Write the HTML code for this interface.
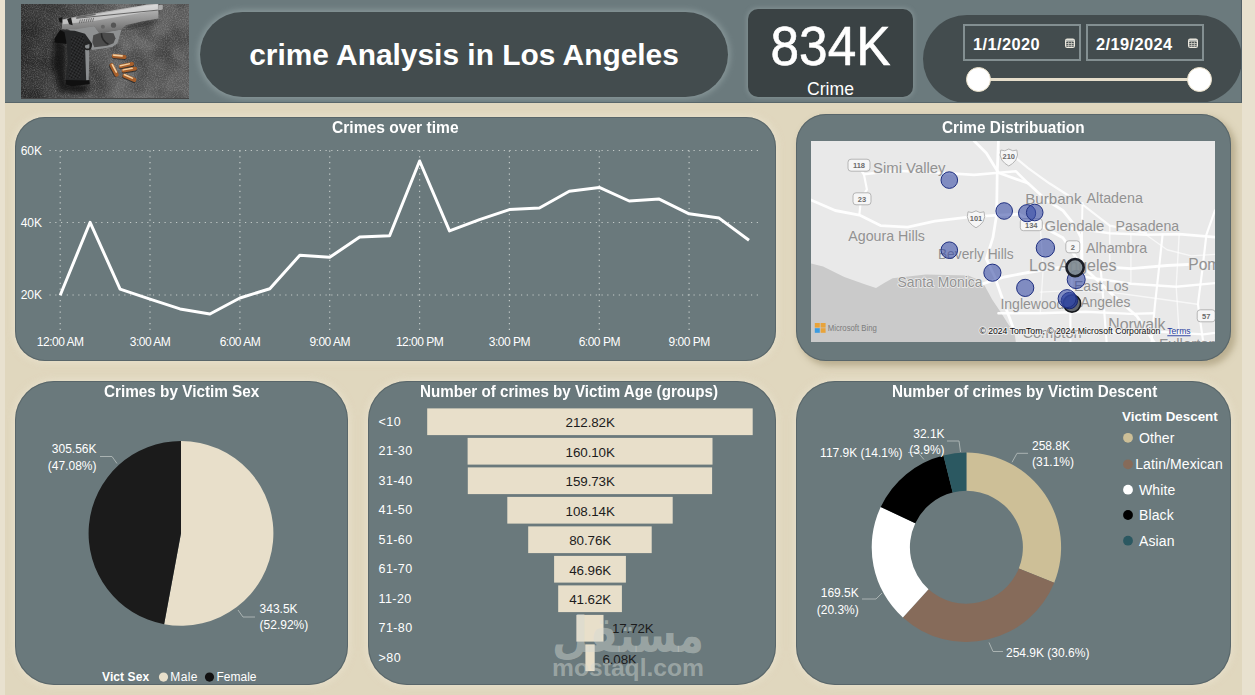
<!DOCTYPE html>
<html lang="en">
<head>
<meta charset="utf-8">
<title>crime Analysis in Los Angeles</title>
<style>
*{box-sizing:border-box;margin:0;padding:0}
html,body{width:1255px;height:695px;overflow:hidden}
body{position:relative;background:#e8e1cf;font-family:"Liberation Sans","DejaVu Sans",sans-serif;color:#fff}
.abs{position:absolute}
#canvas{position:absolute;left:5px;top:0;width:1237px;height:695px;background:#e0d7be;overflow:hidden}
#header{position:absolute;left:0;top:0;width:1237px;height:103px;background:#6b7a7d;overflow:hidden;border-bottom:1px solid #58666a;border-right:1.5px solid #526066}
.card{position:absolute;background:#6a797c;border-radius:30px;box-shadow:inset 0 0 0 1px rgba(72,84,88,.5),0 0 6px 2px rgba(236,230,212,.55)}
.title{position:absolute;white-space:nowrap;font-weight:bold;font-size:16px;line-height:16px;color:#fff;transform-origin:0 0}
.dbox{border:2px solid #838f91;background:#434c4e}
.dbox span{position:absolute;left:8px;top:8.6px;font-weight:bold;font-size:16.4px;letter-spacing:.4px;color:#fff}
.knob{width:25px;height:25px;border-radius:50%;background:#fff;border:1.5px solid #e8dfc8}
svg{position:absolute;left:0;top:0;overflow:visible}
svg text{font-family:"Liberation Sans","DejaVu Sans",sans-serif}
</style>
</head>
<body>
<div id="canvas">
  <div id="header">
    <!-- gun photo -->
    <div id="gun" class="abs" style="left:15.5px;top:4px;width:168.5px;height:94.5px;background:#444;overflow:hidden"><svg id="gunsvg" width="169" height="94" viewBox="0 0 169 94" style="overflow:hidden">
      <defs>
        <linearGradient id="gbg" x1="0" y1="0" x2="1" y2="0"><stop offset="0" stop-color="#303030"/><stop offset=".3" stop-color="#4a4a4a"/><stop offset=".6" stop-color="#666"/><stop offset="1" stop-color="#5c5c5c"/></linearGradient>
        <linearGradient id="gsl" x1="0" y1="0" x2="0.15" y2="1"><stop offset="0" stop-color="#dcdcdc"/><stop offset=".4" stop-color="#acacac"/><stop offset="1" stop-color="#6f6f6f"/></linearGradient>
        <filter id="gn" x="0" y="0" width="100%" height="100%"><feTurbulence type="fractalNoise" baseFrequency="0.9" numOctaves="2" seed="4" result="n"/><feColorMatrix type="matrix" values="0 0 0 0 1  0 0 0 0 1  0 0 0 0 1  1.4 0 0 0 -.55"/></filter>
        <filter id="gn2" x="0" y="0" width="100%" height="100%"><feTurbulence type="fractalNoise" baseFrequency="0.045" numOctaves="2" seed="9"/><feColorMatrix type="matrix" values="0 0 0 0 0  0 0 0 0 0  0 0 0 0 0  1.6 0 0 0 -.6"/></filter>
        <pattern id="ghatch" width="2" height="2" patternUnits="userSpaceOnUse" patternTransform="rotate(30)"><rect width="1" height="1" fill="#111"/><rect x="1" y="1" width="1" height="1" fill="#111"/></pattern>
        <filter id="gb"><feGaussianBlur stdDeviation="2.2"/></filter>
      </defs>
      <rect width="169" height="94" fill="url(#gbg)"/>
      <rect width="169" height="94" filter="url(#gn2)" opacity=".45"/>
      <rect width="169" height="94" filter="url(#gn)" opacity=".3"/>
      <polygon points="33.2,34.2 44.9,40.0 44.9,78.2 68.4,81.2 64.0,90.0 39.0,87.0 31.7,62.1" fill="#0c0c0c" opacity=".75" filter="url(#gb)"/>
      <polygon points="104.5,22.4 137.4,16.1 137.4,17.7 106.6,24.7" fill="#111" opacity=".7" filter="url(#gb)"/>
      <polygon points="47.1,25.2 73.3,22.0 78.4,29.2 100.5,25.4 96.5,39.3 91.4,43.1 71.3,45.9 69.3,43.3 63.2,44.4 60.2,36.3 52.2,29.2" fill="#8f9192"/>
      <polygon points="72.3,31.3 80.4,28.2 92.5,29.2 94.5,34.3 92.5,39.3 86.4,41.8 73.3,43.3 71.3,38.3" fill="#4b4b4b"/>
      <path d="M80.4,29.2 Q80.4,36.3 87.4,40.3" stroke="#2a2a2a" stroke-width="1.6" fill="none"/>
      <polygon points="39.0,26.1 34.3,34.5 45.7,38.6 46.7,57.7 44.6,77.0 50.8,80.4 68.4,78.5 66.6,51.8 71.3,40.0 64.0,29.8 53.7,26.8" fill="#262728"/>
      <polygon points="50.1,32.7 62.5,31.2 64.0,44.5 59.6,75.3 46.4,74.5 49.6,54.7" fill="#3c3d3f"/><polygon points="50.1,32.7 62.5,31.2 64.0,44.5 59.6,75.3 46.4,74.5 49.6,54.7" fill="url(#ghatch)"/>
      <polygon points="39.0,26.1 33.5,34.5 33.5,38.6 45.7,40.0 43.5,28.3" fill="#0e0e0e"/>
      <polygon points="64.0,41.5 68.4,40.0 67.8,76.0 65.2,76.5" fill="#8a8d8f"/>
      <polygon points="44.6,76.0 68.4,76.5 68.7,80.0 50.8,82.3 44.9,80.4" fill="#101010"/>
      <circle cx="66.5" cy="41.8" r="3.6" fill="none" stroke="#232323" stroke-width="1.6"/>
      <polygon points="40.9,15.6 55.2,12.6 126.7,0.5 137.2,-0.2 137.4,14.6 120.7,17.4 104.5,21.2 100.5,25.4 78.4,29.2 73.3,22.2 55.2,25.2 41.1,24.9" fill="url(#gsl)"/>
      <polygon points="41.6,16.1 126.7,1.5 136.8,0.8 136.8,6.1 74.3,16.7 42.1,20.2" fill="#f2f2f2" opacity=".45"/>
      <polyline points="55.2,14.3 136.8,6.1" stroke="#5a5a5a" stroke-width=".9" fill="none"/>
      <polygon points="55.2,12.6 74.3,9.6 74.8,11.1 55.7,14.6" fill="#6a6a6a"/>
      <g stroke="#5f5f5f" stroke-width=".8"><line x1="58.2" y1="19.4" x2="59.4" y2="15.6"/><line x1="60.4" y1="19.1" x2="61.6" y2="15.3"/><line x1="62.6" y1="18.8" x2="63.8" y2="15.0"/><line x1="64.9" y1="18.5" x2="66.1" y2="14.7"/><line x1="67.1" y1="18.2" x2="68.3" y2="14.4"/><line x1="69.3" y1="17.9" x2="70.5" y2="14.1"/><line x1="71.5" y1="17.6" x2="72.7" y2="13.8"/></g>
      <circle cx="92.5" cy="21.2" r="2.6" fill="#555"/>
      <circle cx="81.9" cy="22.7" r="2" fill="#666"/>
      <polygon points="46.1,15.1 50.1,13.6 51.7,21.2 48.1,20.2" fill="#1e1e1e"/>
      <polygon points="37.6,14.1 41.3,13.3 41.3,18.7 38.6,18.2" fill="#161616"/>
      <polygon points="137.2,1.2 140.0,0.8 141.8,1.2 141.8,5.3 140.0,5.9 137.2,5.9" fill="#a9a9a9"/>
      <g transform="translate(98.1,52.5) rotate(5)"><rect x="-7.3" y="-1.1" width="14.7" height="4.1" rx="2.1" fill="#1c1c1c" opacity=".7"/><rect x="-7.3" y="-2.1" width="14.7" height="4.1" rx="1.9" fill="#a85f2a"/><rect x="-6.5" y="-1.7" width="10.3" height="1.6" rx="1" fill="#f3cfa0"/></g><g transform="translate(93.1,65.9) rotate(62)"><rect x="-7.3" y="-1.1" width="14.7" height="4.1" rx="2.1" fill="#1c1c1c" opacity=".7"/><rect x="-7.3" y="-2.1" width="14.7" height="4.1" rx="1.9" fill="#a85f2a"/><rect x="-6.5" y="-1.7" width="10.3" height="1.6" rx="1" fill="#f3cfa0"/></g><g transform="translate(105.4,61.2) rotate(-12)"><rect x="-7.7" y="-0.9" width="15.4" height="3.8" rx="1.9" fill="#1c1c1c" opacity=".7"/><rect x="-7.7" y="-1.9" width="15.4" height="3.8" rx="1.7" fill="#a85f2a"/><rect x="-6.9" y="-1.5" width="10.8" height="1.5" rx="1" fill="#f3cfa0"/></g><g transform="translate(108.3,65.6) rotate(-10)"><rect x="-7.7" y="-0.9" width="15.4" height="3.8" rx="1.9" fill="#1c1c1c" opacity=".7"/><rect x="-7.7" y="-1.9" width="15.4" height="3.8" rx="1.7" fill="#a85f2a"/><rect x="-6.9" y="-1.5" width="10.8" height="1.5" rx="1" fill="#f3cfa0"/></g><g transform="translate(108.3,73.8) rotate(24)"><rect x="-7.3" y="-1.1" width="14.7" height="4.1" rx="2.1" fill="#1c1c1c" opacity=".7"/><rect x="-7.3" y="-2.1" width="14.7" height="4.1" rx="1.9" fill="#a85f2a"/><rect x="-6.5" y="-1.7" width="10.3" height="1.6" rx="1" fill="#f3cfa0"/></g>
    </svg></div>
    <!-- title pill -->
    <div id="pill" class="abs" style="left:195px;top:12px;width:528px;height:85px;border-radius:43px;background:#434c4e;box-shadow:0 0 6px 2px rgba(200,215,215,.33)">
      <div class="abs" style="left:0;right:0;top:25.5px;text-align:center;font-weight:bold;font-size:29.9px;color:#fff">crime Analysis in Los Angeles</div>
    </div>
    <!-- KPI -->
    <div id="kpi" class="abs" style="left:743px;top:9px;width:165px;height:87.5px;border-radius:10px;background:#3a4244;box-shadow:0 0 5px 1px rgba(200,215,215,.28)">
      <div class="abs" style="left:0;right:0;top:4.5px;text-align:center;font-size:55.5px;color:#fff;transform:scaleX(.925);-webkit-text-stroke:.6px #fff">834K</div>
      <div class="abs" style="left:0;right:0;top:69.5px;text-align:center;font-size:17.6px;color:#fff">Crime</div>
    </div>
    <!-- slicer -->
    <div id="slicer" class="abs" style="left:918px;top:15px;width:319px;height:88px;border-radius:44px;background:#434c4e">
      <div class="abs dbox" style="left:40px;top:9px;width:117.5px;height:37px"><span>1/1/2020</span>
        <svg width="12" height="12" viewBox="0 0 12 12" style="left:98.5px;top:10.8px"><rect x="1" y="1.5" width="10" height="9.5" rx="2.2" fill="#eeeae0"/><rect x="2.3" y="4.6" width="7.4" height="5.2" rx=".6" fill="#434c4e"/><rect x="2.3" y="6.1" width="7.4" height=".8" fill="#d9d6cc"/><rect x="2.3" y="7.9" width="7.4" height=".8" fill="#d9d6cc"/><rect x="4.4" y="4.6" width=".7" height="5.2" fill="#d9d6cc"/><rect x="6.9" y="4.6" width=".7" height="5.2" fill="#d9d6cc"/><rect x="2" y="2.9" width="8" height=".7" fill="#9aa3a3"/></svg></div>
      <div class="abs dbox" style="left:163px;top:9px;width:117.5px;height:37px"><span>2/19/2024</span>
        <svg width="12" height="12" viewBox="0 0 12 12" style="left:98.5px;top:10.8px"><rect x="1" y="1.5" width="10" height="9.5" rx="2.2" fill="#eeeae0"/><rect x="2.3" y="4.6" width="7.4" height="5.2" rx=".6" fill="#434c4e"/><rect x="2.3" y="6.1" width="7.4" height=".8" fill="#d9d6cc"/><rect x="2.3" y="7.9" width="7.4" height=".8" fill="#d9d6cc"/><rect x="4.4" y="4.6" width=".7" height="5.2" fill="#d9d6cc"/><rect x="6.9" y="4.6" width=".7" height="5.2" fill="#d9d6cc"/><rect x="2" y="2.9" width="8" height=".7" fill="#9aa3a3"/></svg></div>
      <div class="abs" style="left:55px;top:62.5px;width:222px;height:3.5px;background:#e6decb"></div>
      <div class="abs knob" style="left:42.5px;top:51.5px"></div>
      <div class="abs knob" style="left:264px;top:51.5px"></div>
    </div>
  </div>

  <!-- line chart card -->
  <div class="card" id="c1" style="left:10px;top:117px;width:761px;height:244px">
    <div class="title" style="left:317.3px;top:3.2px;transform:scaleX(.975)">Crimes over time</div>
    <svg width="761" height="244" viewBox="0 0 761 244">
      <g stroke="#c3cac8" stroke-width="1.2" stroke-dasharray="1.2 4.55" fill="none"><line x1="34.5" y1="33.5" x2="744" y2="33.5"/><line x1="34.5" y1="105.5" x2="744" y2="105.5"/><line x1="34.5" y1="178" x2="744" y2="178"/><line x1="45.2" y1="33.5" x2="45.2" y2="216"/><line x1="135.0" y1="33.5" x2="135.0" y2="216"/><line x1="224.9" y1="33.5" x2="224.9" y2="216"/><line x1="314.7" y1="33.5" x2="314.7" y2="216"/><line x1="404.6" y1="33.5" x2="404.6" y2="216"/><line x1="494.4" y1="33.5" x2="494.4" y2="216"/><line x1="584.3" y1="33.5" x2="584.3" y2="216"/><line x1="674.1" y1="33.5" x2="674.1" y2="216"/></g>
      <g fill="#fff" font-size="12" letter-spacing="-.5"><text x="45.2" y="229" text-anchor="middle">12:00 AM</text><text x="135.0" y="229" text-anchor="middle">3:00 AM</text><text x="224.9" y="229" text-anchor="middle">6:00 AM</text><text x="314.7" y="229" text-anchor="middle">9:00 AM</text><text x="404.6" y="229" text-anchor="middle">12:00 PM</text><text x="494.4" y="229" text-anchor="middle">3:00 PM</text><text x="584.3" y="229" text-anchor="middle">6:00 PM</text><text x="674.1" y="229" text-anchor="middle">9:00 PM</text><text x="5.8" y="37.7" letter-spacing="-.1">60K</text><text x="5.8" y="109.7" letter-spacing="-.1">40K</text><text x="5.8" y="182.2" letter-spacing="-.1">20K</text></g>
      <polyline points="45.2,178.3 75.1,105.3 105.1,172.1 135.0,182.2 165.0,191.9 194.9,197.0 224.9,181.0 254.8,171.7 284.8,138.3 314.7,140.3 344.7,120.1 374.6,118.7 404.6,44.0 434.5,113.9 464.5,102.7 494.4,92.6 524.4,91.0 554.3,74.3 584.3,70.4 614.2,84.0 644.2,82.1 674.1,96.8 704.1,101.1 734.0,123.2" fill="none" stroke="#fff" stroke-width="3" stroke-linejoin="round" stroke-linecap="butt"/>
    </svg>
  </div>
  <!-- map card -->
  <div class="card" id="c2" style="left:791px;top:114px;width:435px;height:247px;box-shadow:inset 0 0 0 1px rgba(72,84,88,.5),4px 4px 6px 1px rgba(150,135,100,.5)">
    <div class="title" style="left:146.1px;top:6.2px;transform:scaleX(.96)">Crime Distribuation</div>
    <svg id="map" width="404" height="201" viewBox="0 0 404 201" style="left:15px;top:27px;overflow:hidden">
      <rect width="404" height="201" fill="#e9e9e9"/>
      <path d="M0.0,122.4 L12.1,125.4 L33.3,136.0 L54.4,143.6 L65.0,146.9 L73.2,142.1 L81.6,137.2 L114.9,133.6 L157.2,134.5 L167.7,139.0 L173.8,145.1 L181.3,158.7 L190.4,172.3 L197.1,182.9 L202.5,190.4 L204.0,194.9 L205.0,202.5 L205.0,211.6 L0.0,211.6Z" fill="#cacaca"/>
      <g fill="none" stroke="#fff" stroke-opacity=".92" stroke-linejoin="round" stroke-linecap="round"><path d="M46.9,24.2 L52.9,33.3 L84.6,29.7 L130.0,31.8 L163.2,33.9 L187.4,31.8 L205.0,30.3 L217.1,42.3" stroke-width="2.6" opacity="1"/><path d="M52.9,33.3 L55.9,48.4 L49.9,59.0 L48.4,73.2" stroke-width="2.2" opacity="1"/><path d="M0.0,59.0 L24.2,69.5 L48.4,74.1 L69.5,84.6 L96.7,86.2 L123.9,80.1 L157.2,76.2 L187.4,74.1 L208.1,73.2 L229.2,84.6 L251.9,96.7 L264.0,114.9 L270.0,124.5" stroke-width="2.8" opacity="1"/><path d="M187.4,0.0 L186.2,33.3 L185.6,74.1 L181.9,96.7 L175.3,117.9 L183.8,136.0 L193.4,163.2 L202.5,187.4" stroke-width="2.8" opacity="1"/><path d="M163.2,0.0 L175.3,12.1 L187.4,31.8 L217.1,42.3 L235.3,59.0 L251.9,69.5 L264.0,84.6 L270.0,96.7 L270.9,124.5 L298.7,151.1 L325.9,175.3 L344.0,202.5" stroke-width="2.8" opacity="1"/><path d="M187.4,12.1 L199.0,12.1 L217.1,27.2 L238.3,42.3 L271.5,63.5 L298.7,84.6 L335.0,92.2" stroke-width="2.2" opacity="0.9"/><path d="M208.1,73.2 L229.2,84.6 L271.5,88.3 L298.7,92.2 L335.0,93.7 L368.2,93.1 L403.9,96.1" stroke-width="2.6" opacity="1"/><path d="M271.5,62.0 L270.9,88.3 L271.5,124.5" stroke-width="2" opacity="1"/><path d="M172.3,142.7 L193.4,136.0 L217.1,131.5 L244.3,127.0 L274.5,124.5 L319.9,127.6 L356.1,124.5 L403.9,122.1" stroke-width="2.8" opacity="1"/><path d="M274.5,136.0 L319.9,142.7 L365.2,145.7 L403.9,142.1" stroke-width="2.4" opacity="1"/><path d="M351.6,93.7 L347.7,130.0 L344.0,163.2 L340.4,202.5" stroke-width="2.2" opacity="1"/><path d="M289.6,127.0 L292.7,163.2 L295.7,202.5" stroke-width="2.2" opacity="1"/><path d="M261.5,127.0 L259.4,163.2 L259.4,202.5" stroke-width="2.2" opacity="1"/><path d="M187.4,172.3 L229.2,172.3 L274.5,170.8 L319.9,172.9 L342.5,172.3" stroke-width="2.4" opacity="1"/><path d="M403.9,69.5 L395.4,93.7 L391.2,130.0 L386.9,163.2 L392.4,202.5" stroke-width="2.2" opacity="1"/><path d="M259.4,190.4 L295.7,191.9 L341.0,190.4 L392.4,193.4 L403.9,191.9" stroke-width="2.2" opacity="1"/><path d="M298.7,84.6 L298.7,127.0" stroke-width="1.6" opacity="0.8"/><path d="M319.9,93.7 L319.9,142.7" stroke-width="1.4" opacity="0.7"/><path d="M368.2,93.1 L365.2,145.7 L368.2,193.4" stroke-width="1.4" opacity="0.7"/><path d="M229.2,84.6 L232.2,127.0 L229.2,172.3" stroke-width="1.4" opacity="0.7"/><path d="M229.2,151.1 L259.4,149.6 L292.7,151.1" stroke-width="1.4" opacity="0.7"/><path d="M335.0,93.7 L356.1,108.8 L380.3,114.9 L403.9,113.4" stroke-width="1.4" opacity="0.7"/><path d="M298.7,151.1 L344.0,157.2 L386.3,163.2" stroke-width="1.4" opacity="0.7"/></g>
      <rect x="37.0" y="18.19999999999999" width="22" height="12" rx="3" fill="#f6f6f6" stroke="#b5b5b5" stroke-width="1"/><text x="48" y="27.19999999999999" font-size="7.5" font-weight="bold" text-anchor="middle" fill="#6b6b6b">118</text><rect x="42.0" y="51.80000000000001" width="18" height="12" rx="3" fill="#f6f6f6" stroke="#b5b5b5" stroke-width="1"/><text x="51" y="60.80000000000001" font-size="7.5" font-weight="bold" text-anchor="middle" fill="#6b6b6b">23</text><path d="M189.79999999999995,9 q4,2 8,-1 q4,3 8,1 q2,5 -1,10 q-3,4 -7,6 q-4,-2 -7,-6 q-3,-5 -1,-10Z" fill="#f6f6f6" stroke="#b5b5b5" stroke-width="1"/><text x="197.79999999999995" y="18.3" font-size="7.5" font-weight="bold" text-anchor="middle" fill="#6b6b6b">210</text><path d="M157,70.80000000000001 q4,2 8,-1 q4,3 8,1 q2,5 -1,10 q-3,4 -7,6 q-4,-2 -7,-6 q-3,-5 -1,-10Z" fill="#f6f6f6" stroke="#b5b5b5" stroke-width="1"/><text x="165" y="80.10000000000001" font-size="7.5" font-weight="bold" text-anchor="middle" fill="#6b6b6b">101</text><rect x="209.29999999999995" y="77.69999999999999" width="22" height="12" rx="3" fill="#f6f6f6" stroke="#b5b5b5" stroke-width="1"/><text x="220.29999999999995" y="86.69999999999999" font-size="7.5" font-weight="bold" text-anchor="middle" fill="#6b6b6b">134</text><rect x="254.79999999999995" y="99.80000000000001" width="14" height="12" rx="3" fill="#f6f6f6" stroke="#b5b5b5" stroke-width="1"/><text x="261.79999999999995" y="108.80000000000001" font-size="7.5" font-weight="bold" text-anchor="middle" fill="#6b6b6b">2</text><rect x="386.20000000000005" y="168.8" width="18" height="12" rx="3" fill="#f6f6f6" stroke="#b5b5b5" stroke-width="1"/><text x="395.20000000000005" y="177.8" font-size="7.5" font-weight="bold" text-anchor="middle" fill="#6b6b6b">57</text>
      <g fill="#929292" stroke="#ececec" stroke-width="1.6" paint-order="stroke"><text x="62.1" y="31.8" font-size="14.6" textLength="72.4" lengthAdjust="spacingAndGlyphs">Simi Valley</text><text x="214.2" y="63.1" font-size="14.6" textLength="56.4" lengthAdjust="spacingAndGlyphs">Burbank</text><text x="275.5" y="61.6" font-size="14.6" textLength="56.4" lengthAdjust="spacingAndGlyphs">Altadena</text><text x="233.6" y="89.8" font-size="14.6" textLength="59.8" lengthAdjust="spacingAndGlyphs">Glendale</text><text x="304.5" y="89.8" font-size="14.6" textLength="63.7" lengthAdjust="spacingAndGlyphs">Pasadena</text><text x="37.3" y="100.4" font-size="14.6" textLength="76.6" lengthAdjust="spacingAndGlyphs">Agoura Hills</text><text x="275.1" y="111.9" font-size="14.6" textLength="61" lengthAdjust="spacingAndGlyphs">Alhambra</text><text x="126.9" y="117.6" font-size="14.6" textLength="75.8" lengthAdjust="spacingAndGlyphs">Beverly Hills</text><text x="218.0" y="130.2" font-size="16.6" textLength="87.6" lengthAdjust="spacingAndGlyphs">Los Angeles</text><text x="377.3" y="128.7" font-size="16.6" textLength="58" lengthAdjust="spacingAndGlyphs">Pomona</text><text x="86.5" y="146.2" font-size="14.6" textLength="85" lengthAdjust="spacingAndGlyphs">Santa Monica</text><text x="263.0" y="149.6" font-size="14.6" textLength="54.5" lengthAdjust="spacingAndGlyphs">East Los</text><text x="269.4" y="166.0" font-size="14.6" textLength="50" lengthAdjust="spacingAndGlyphs">Angeles</text><text x="189.4" y="167.9" font-size="14.6" textLength="64" lengthAdjust="spacingAndGlyphs">Inglewood</text><text x="297.3" y="188.9" font-size="16.4" textLength="57.1" lengthAdjust="spacingAndGlyphs">Norwalk</text><text x="211.5" y="196.5" font-size="14.6" textLength="59.1" lengthAdjust="spacingAndGlyphs">Compton</text><text x="347.9" y="208.0" font-size="14.6" textLength="58" lengthAdjust="spacingAndGlyphs">Fullerton</text></g>
      <circle cx="261.0" cy="162.5" r="8.6" fill="#4a5058" fill-opacity=".85" stroke="#15181c" stroke-width="1.6"/><circle cx="258.4" cy="159.6" r="8.2" fill="#22389a" fill-opacity=".75" stroke="#172470" stroke-width="1"/>
      <g fill="#3a4ea6" fill-opacity=".6" stroke="#1f2f80" stroke-width="1"><circle cx="138.3" cy="39.1" r="8.3"/><circle cx="193.2" cy="70.0" r="8.3"/><circle cx="216.1" cy="72.2" r="8.6"/><circle cx="223.7" cy="71.5" r="8.3"/><circle cx="234.4" cy="106.9" r="9.2"/><circle cx="138.3" cy="109.2" r="8.3"/><circle cx="181.4" cy="131.7" r="8.6"/><circle cx="214.2" cy="146.9" r="8.6"/><circle cx="265.2" cy="138.6" r="9"/><circle cx="256.1" cy="157.6" r="9"/></g>
      <circle cx="264.1" cy="126.6" r="8.6" fill="#7f8a91" fill-opacity=".92" stroke="#1a1d26" stroke-width="2.6"/>
      <g><rect x="3.8" y="182" width="5" height="4.6" fill="#e8a33a"/><rect x="9.6" y="182" width="5" height="4.6" fill="#e8a33a"/><rect x="3.8" y="187.2" width="5" height="4.6" fill="#3b9be0"/><rect x="9.6" y="187.2" width="5" height="4.6" fill="#e8a33a"/>
      <text x="16.7" y="190" font-size="8.6" fill="#7c7c7c" textLength="49.2" lengthAdjust="spacingAndGlyphs">Microsoft Bing</text></g>
      <text x="168.4" y="193.3" font-size="9.3" fill="#111" stroke="#f2f2f2" stroke-width="2" paint-order="stroke" stroke-opacity=".8" textLength="181" lengthAdjust="spacingAndGlyphs">© 2024 TomTom, © 2024 Microsoft Corporation</text>
      <text x="356.3" y="193.3" font-size="9.3" fill="#2a3fa0" text-decoration="underline" textLength="23.3" lengthAdjust="spacingAndGlyphs">Terms</text>
    </svg>
  </div>
  <!-- pie card -->
  <div class="card" id="c3" style="left:10px;top:380.5px;width:333px;height:304px;border-radius:39px">
    <div class="title" style="left:89.3px;top:3.7px;transform:scaleX(.956)">Crimes by Victim Sex</div>
    <svg id="pie" width="333" height="300" viewBox="0 0 333 300">
      <path d="M166.00,152.30 L166.00,59.90 A92.4,92.4 0 1 1 149.14,243.15Z" fill="#e8dfca"/>
      <path d="M166.00,152.30 L149.14,243.15 A92.4,92.4 0 0 1 166.00,59.90Z" fill="#1b1b1b"/>
      <g fill="none" stroke="#aab3b2" stroke-width="1"><path d="M85,75.5 h12 l5,7"/><path d="M223,229.0 l5,7 h12"/></g>
      <g fill="#fff" font-size="12">
        <text x="81.5" y="72.30000000000001" text-anchor="end">305.56K</text>
        <text x="81.5" y="89.30000000000001" text-anchor="end">(47.08%)</text>
        <text x="244.60000000000002" y="232.10000000000002">343.5K</text>
        <text x="244.60000000000002" y="247.70000000000005">(52.92%)</text>
        <text x="87" y="300.1" font-weight="bold" letter-spacing=".1">Vict Sex</text>
        <text x="155.3" y="300.1" letter-spacing=".4">Male</text>
        <text x="201.5" y="300.1">Female</text>
      </g>
      <circle cx="148.5" cy="296.1" r="4.6" fill="#e8dfca"/>
      <circle cx="194.5" cy="296.1" r="4.6" fill="#111"/>
    </svg>
  </div>
  <!-- funnel card -->
  <div class="card" id="c4" style="left:363px;top:380.5px;width:408px;height:304px;border-radius:39px">
    <div class="title" style="left:52.2px;top:3.7px;transform:scaleX(.947)">Number of crimes by Victim Age (groups)</div>
    <svg id="funnel" width="408" height="300" viewBox="0 0 408 300" style="top:-1px">
      <g fill="#e8dfca"><rect x="59.2" y="28.4" width="325.5" height="26.7"/><rect x="99.6" y="57.9" width="244.9" height="26.7"/><rect x="99.8" y="87.4" width="244.3" height="26.7"/><rect x="139.3" y="116.9" width="165.4" height="26.7"/><rect x="160.2" y="146.4" width="123.5" height="26.7"/><rect x="186.1" y="175.9" width="71.8" height="26.7"/><rect x="190.2" y="205.4" width="63.7" height="26.7"/><rect x="208.4" y="234.9" width="27.1" height="26.7"/><rect x="217.4" y="264.4" width="9.3" height="26.7"/></g>
      <text x="10.600000000000023" y="45.7" fill="#fff" font-size="12.5" letter-spacing=".4">&lt;10</text><text x="222.2" y="47.3" fill="#1c1c1c" font-size="13.4" text-anchor="middle" letter-spacing="-.1">212.82K</text><text x="10.600000000000023" y="75.2" fill="#fff" font-size="12.5" letter-spacing=".4">21-30</text><text x="222.2" y="76.8" fill="#1c1c1c" font-size="13.4" text-anchor="middle" letter-spacing="-.1">160.10K</text><text x="10.600000000000023" y="104.7" fill="#fff" font-size="12.5" letter-spacing=".4">31-40</text><text x="222.2" y="106.3" fill="#1c1c1c" font-size="13.4" text-anchor="middle" letter-spacing="-.1">159.73K</text><text x="10.600000000000023" y="134.2" fill="#fff" font-size="12.5" letter-spacing=".4">41-50</text><text x="222.2" y="135.8" fill="#1c1c1c" font-size="13.4" text-anchor="middle" letter-spacing="-.1">108.14K</text><text x="10.600000000000023" y="163.7" fill="#fff" font-size="12.5" letter-spacing=".4">51-60</text><text x="222.2" y="165.3" fill="#1c1c1c" font-size="13.4" text-anchor="middle" letter-spacing="-.1">80.76K</text><text x="10.600000000000023" y="193.2" fill="#fff" font-size="12.5" letter-spacing=".4">61-70</text><text x="222.2" y="194.8" fill="#1c1c1c" font-size="13.4" text-anchor="middle" letter-spacing="-.1">46.96K</text><text x="10.600000000000023" y="222.7" fill="#fff" font-size="12.5" letter-spacing=".4">11-20</text><text x="222.2" y="224.3" fill="#1c1c1c" font-size="13.4" text-anchor="middle" letter-spacing="-.1">41.62K</text><text x="10.600000000000023" y="252.2" fill="#fff" font-size="12.5" letter-spacing=".4">71-80</text><text x="244" y="253.4" fill="#1c1c1c" font-size="13.4" letter-spacing="-.15">17.72K</text><text x="10.600000000000023" y="281.8" fill="#fff" font-size="12.5" letter-spacing=".4">&gt;80</text><text x="234.5" y="284.1" fill="#1c1c1c" font-size="13.4" letter-spacing="-.15">6.08K</text>
      <g fill="#d5d9d4" fill-opacity=".45" font-weight="bold" text-anchor="middle">
        <text x="260" y="271.5" font-size="50" font-family="'DejaVu Sans','Liberation Sans',sans-serif" textLength="152" lengthAdjust="spacingAndGlyphs">مستقل</text>
        <text x="260" y="295.5" font-size="24" textLength="152" lengthAdjust="spacingAndGlyphs">mostaql.com</text>
      </g>
    </svg>
  </div>
  <!-- donut card -->
  <div class="card" id="c5" style="left:791px;top:380.5px;width:435px;height:304px;border-radius:39px">
    <div class="title" style="left:96.4px;top:3.7px;transform:scaleX(.954)">Number of crimes by Victim Descent</div>
    <svg id="donut" width="435" height="300" viewBox="0 0 435 300" style="top:-1px">
      <path d="M170.40,72.60 A94.7,94.7 0 0 1 258.23,202.71 L222.80,188.43 A56.5,56.5 0 0 0 170.40,110.80Z" fill="#cdbf97"/><path d="M258.23,202.71 A94.7,94.7 0 0 1 106.89,237.54 L132.51,209.21 A56.5,56.5 0 0 0 222.80,188.43Z" fill="#866b5a"/><path d="M106.89,237.54 A94.7,94.7 0 0 1 84.71,126.98 L119.28,143.24 A56.5,56.5 0 0 0 132.51,209.21Z" fill="#ffffff"/><path d="M84.71,126.98 A94.7,94.7 0 0 1 147.43,75.43 L156.69,112.49 A56.5,56.5 0 0 0 119.28,143.24Z" fill="#000000"/><path d="M147.43,75.43 A94.7,94.7 0 0 1 170.40,72.60 L170.40,110.80 A56.5,56.5 0 0 0 156.69,112.49Z" fill="#2b5861"/>
      <g fill="none" stroke="#aab3b2" stroke-width="1">
        <path d="M232,73.30000000000001 h-11 l-5,9"/>
        <path d="M207,271.5 h-10 l-4,-9"/>
        <path d="M66,219.0 h14 l6,-6"/>
        <path d="M112,72.5 h10 l6,7"/>
        <path d="M151,61.0 h12 l1.5,11"/>
      </g>
      <g fill="#fff" font-size="12">
        <text x="236" y="69.5">258.8K</text><text x="236" y="85.89999999999998">(31.1%)</text>
        <text x="210" y="276.70000000000005">254.9K (30.6%)</text>
        <text x="62.799999999999955" y="216.79999999999995" text-anchor="end">169.5K</text><text x="62.799999999999955" y="233.70000000000005" text-anchor="end">(20.3%)</text>
        <text x="106.60000000000002" y="76.5" text-anchor="end">117.9K (14.1%)</text>
        <text x="148.60000000000002" y="57.89999999999998" text-anchor="end">32.1K</text><text x="148.60000000000002" y="74.19999999999999" text-anchor="end">(3.9%)</text>
      </g>
      <g fill="#fff" font-size="14" letter-spacing=".1">
        <text x="326" y="40.5" font-weight="bold" font-size="13.4" letter-spacing="0">Victim Descent</text>
        <circle cx="332" cy="57.80000000000001" r="4.9" fill="#cdbf97"/><text x="343" y="62.60000000000001">Other</text><circle cx="332" cy="84.30000000000001" r="4.9" fill="#866b5a"/><text x="339.20000000000005" y="89.10000000000001">Latin/Mexican</text><circle cx="332" cy="109.69999999999999" r="4.9" fill="#ffffff"/><text x="343" y="114.49999999999999">White</text><circle cx="332" cy="135.0" r="4.9" fill="#000000"/><text x="343" y="139.8">Black</text><circle cx="332" cy="160.70000000000005" r="4.9" fill="#2b5861"/><text x="343" y="165.50000000000006">Asian</text>
      </g>
    </svg>
  </div>
</div>
</body>
</html>
